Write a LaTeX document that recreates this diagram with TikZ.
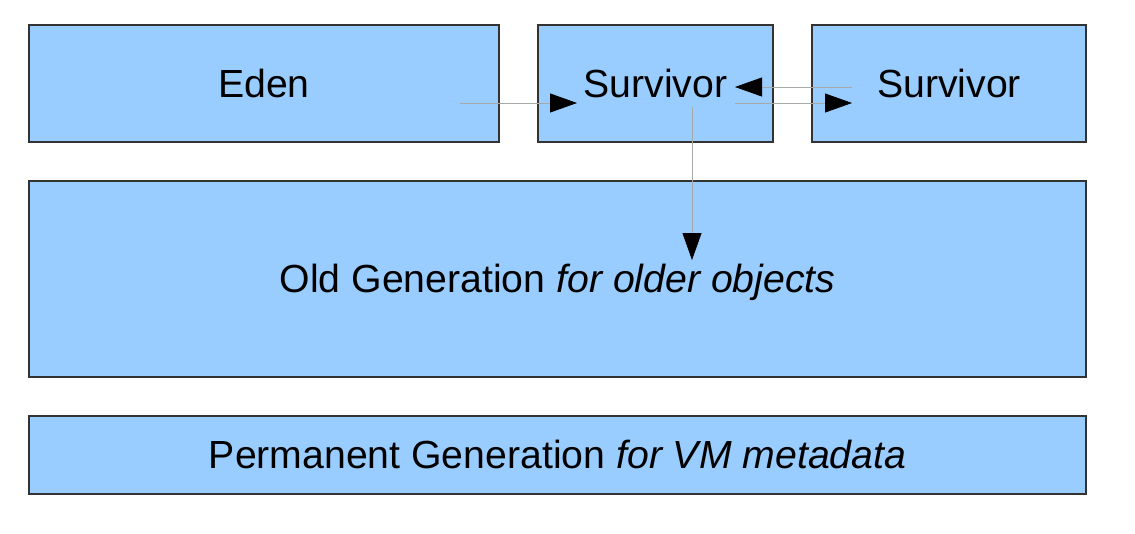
\documentclass[tikz,border=0pt]{standalone}
\usepackage{fontspec}
\setmainfont{Liberation Sans}
\usetikzlibrary{arrows.meta}
\definecolor{boxfill}{HTML}{99CCFF}
\definecolor{boxline}{HTML}{333333}
\definecolor{conn}{HTML}{A8A8A8}
\begin{document}
\begin{tikzpicture}[x=1pt,y=-1pt,
  region/.style={draw=boxline,line width=1.5pt,fill=boxfill,inner sep=0pt,outer sep=0pt,
    text height=27pt,text depth=0pt,
    font=\fontsize{39.2}{46}\selectfont},
  flow/.style={draw=conn,line width=0.8pt,-{Triangle[length=27pt,width=19pt,black]}}]
\useasboundingbox (0,0) rectangle (1135,533);
\fill[white] (0,0) rectangle (1135,533);
\node[region,minimum width=470pt,minimum height=117pt] (eden) at (264,83.5) {Eden};
\node[region,minimum width=235pt,minimum height=117pt] (surv1) at (655.5,83.5) {Survivor};
\node[region,minimum width=274pt,minimum height=117pt] (surv2) at (949,83.5) {Survivor};
\node[region,minimum width=1057pt,minimum height=196pt] (old) at (557.5,279) {Old Generation \textit{for older objects}};
\node[region,minimum width=1057pt,minimum height=78pt] (perm) at (557.5,455) {Permanent Generation \textit{for VM metadata}};
\coordinate (e1) at (460,103);
\coordinate (s1in) at (577,103);
\coordinate (s2out) at (852,87);
\coordinate (s1back) at (735,87);
\coordinate (s1out) at (735,103);
\coordinate (s2in) at (852,103);
\coordinate (s1down) at (692,107);
\coordinate (oldin) at (692,260);
\draw[flow] (e1) -- (s1in);
\draw[flow] (s2out) -- (s1back);
\draw[flow] (s1out) -- (s2in);
\draw[flow] (s1down) -- (oldin);
\end{tikzpicture}
\end{document}
